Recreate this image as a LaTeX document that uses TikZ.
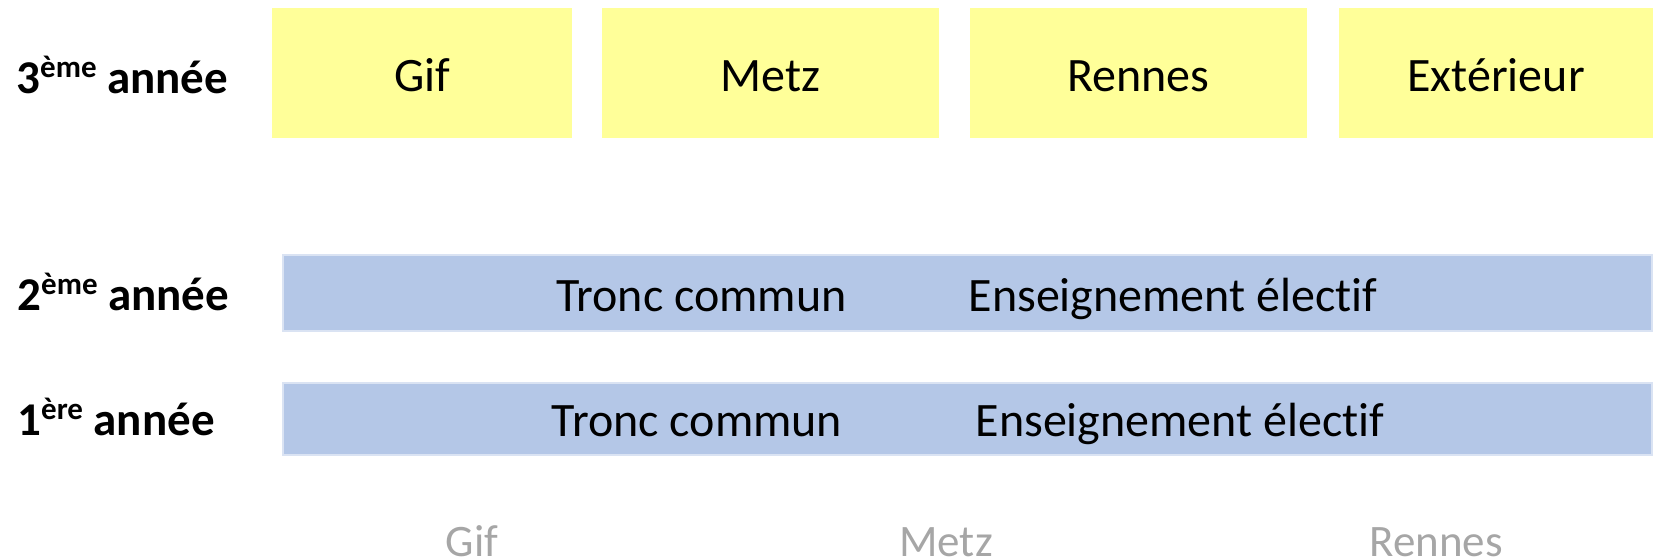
\documentclass[tikz,border=0pt]{standalone}
\usepackage{fontspec}
\setmainfont{Carlito}[Ligatures=NoCommon]

\definecolor{jaune}{HTML}{FFFF99}
\definecolor{bleu}{HTML}{B4C7E7}
\definecolor{bleuclair}{HTML}{DAE3F3}
\definecolor{gris}{HTML}{A6A6A6}

\newcommand{\annee}[2]{\textbf{#1\raisebox{8pt}{\fontsize{15.5}{16}\selectfont #2} année}}

\begin{document}
\begin{tikzpicture}[x=0.5pt, y=-0.5pt,
    ville/.style = {fill=jaune, minimum height=65pt, inner sep=0pt, text height=18pt, text depth=0pt, font=\fontsize{24}{28}\selectfont},
    bande/.style = {draw=bleuclair, line width=1pt, fill=bleu, minimum width=684.5pt, inner sep=0pt},
    txt/.style = {anchor=base, inner sep=0pt, font=\fontsize{24}{28}\selectfont},
    an/.style = {anchor=base west, inner sep=0pt, font=\fontsize{23.5}{28}\selectfont},
    campus/.style = {anchor=base, inner sep=0pt, text=gris, font=\fontsize{22.5}{26}\selectfont}]
    \useasboundingbox (0,0) rectangle (1653,558);

    % 3eme annee
    \node[an] (a3) at (16,93) {\annee{3}{ème}};
    \node[ville, minimum width=150pt] (gif) at (422,73) {Gif};
    \node[ville, minimum width=168.5pt] (metz) at (770.5,73) {Metz};
    \node[ville, minimum width=168.5pt] (rennes) at (1138.5,73) {Rennes};
    \node[ville, minimum width=157pt] (ext) at (1496,73) {Extérieur};

    % 2eme annee
    \node[an] (a2) at (17,310) {\annee{2}{ème}};
    \node[bande, minimum height=38pt] (b2) at (967.5,293) {};
    \node[txt] (tc2) at (701.5,311) {Tronc commun};
    \node[txt] (ee2) at (1173,311) {Enseignement électif};

    % 1ere annee
    \node[an] (a1) at (17,435) {\annee{1}{ère}};
    \node[bande, minimum height=36pt] (b1) at (967.5,419) {};
    \node[txt] (tc1) at (697,436) {Tronc commun};
    \node[txt] (ee1) at (1180,436) {Enseignement électif};

    % campus
    \node[campus] (c1) at (472,556) {Gif};
    \node[campus] (c2) at (946,556) {Metz};
    \node[campus] (c3) at (1436,556) {Rennes};
\end{tikzpicture}
\end{document}
